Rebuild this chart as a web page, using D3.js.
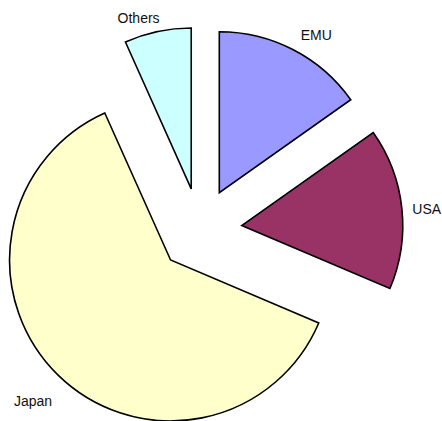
<!DOCTYPE html>
<html>
<head>
<meta charset="utf-8">
<script src="https://cdn.jsdelivr.net/npm/d3@7"></script>
<style>
  html, body { margin: 0; padding: 0; background: #fff; }
  svg { display: block; }
</style>
</head>
<body>
<div id="chart"></div>
<script>
// ---- data ----
const categories = ["EMU", "USA", "Japan", "Others"];
const values = [15.2, 16.2, 61.9, 6.7];
const colors = ["#9999FF", "#993366", "#FFFFCC", "#CCFFFF"];

// ---- layout ----
const width = 442, height = 421;
const center = { x: 200, y: 230 };
const radius = 161;
const explode = 42;
const labelRadius = 185;
const labelNudge = { EMU: [12, 6.5], USA: [1, 3], Japan: [-8, 9], Others: [-14, 10] };

const svg = d3.select("#chart").append("svg")
  .attr("width", width).attr("height", height);

const pie = d3.pie().sort(null).value(d => d.value);
const arcs = pie(categories.map((c, i) => ({ name: c, value: values[i], color: colors[i] })));
const arc = d3.arc().innerRadius(0).outerRadius(radius);

const g = svg.append("g").attr("transform", `translate(${center.x},${center.y})`);

function offset(d, r) {
  const a = (d.startAngle + d.endAngle) / 2;
  return [Math.sin(a) * r, -Math.cos(a) * r];
}

const slices = g.selectAll("g.slice").data(arcs).enter().append("g")
  .attr("class", "slice")
  .attr("transform", d => { const [x, y] = offset(d, explode); return `translate(${x},${y})`; });

slices.append("path")
  .attr("d", arc)
  .attr("fill", d => d.data.color)
  .attr("stroke", "#000")
  .attr("stroke-width", 1.6)
  .attr("stroke-linejoin", "miter");

slices.append("text")
  .attr("x", d => offset(d, labelRadius)[0] + labelNudge[d.data.name][0])
  .attr("y", d => offset(d, labelRadius)[1] + labelNudge[d.data.name][1])
  .attr("text-anchor", "middle")
  .attr("dy", "0.35em")
  .attr("font-family", "'Liberation Sans', Arial, sans-serif")
  .attr("font-size", 14)
  .attr("fill", "#111")
  .text(d => d.data.name);
</script>
</body>
</html>
